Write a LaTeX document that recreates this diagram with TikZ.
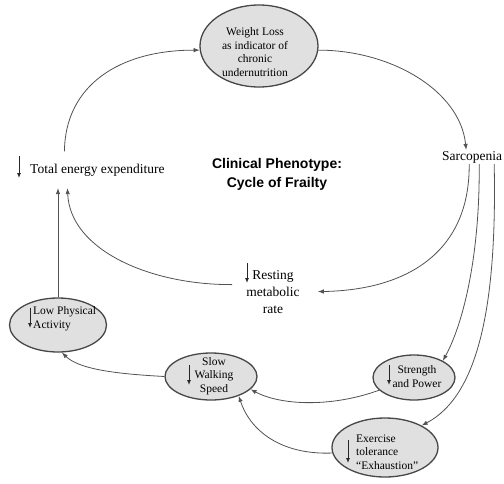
\documentclass[tikz,border=0pt]{standalone}
\usepackage{fontspec}
\setmainfont{Liberation Serif}
\newfontfamily\headfont{Liberation Sans}
\usetikzlibrary{shapes.geometric,arrows.meta,calc}

\begin{document}
\begin{tikzpicture}[x=1pt,y=-1pt,
  blob/.style={ellipse, draw=black!72, line width=1.3pt, fill=black!12, inner sep=0pt},
  blobtext/.style={font=\fontsize{11.5}{13.5}\selectfont, inner sep=0pt, align=#1},
  blobtext/.default=center,
  tag/.style={font=\fontsize{13.5}{17}\selectfont, inner sep=1pt, align=center},
  link/.style={draw=black!68, line width=0.8pt, -{Latex[length=6pt,width=4.5pt]}},
  dn/.style={draw=black!85, line width=0.9pt, -{Latex[length=5pt,width=4pt]}},
]
\useasboundingbox (0,0) rectangle (504,483);

% ---- ellipses (base anchors sit on the last line of text) ----
\node[blob, minimum width=118pt, minimum height=82pt] (wl) at (259,46) {};
\node[blobtext] (wlt) at (255,52) {Weight Loss\\as indicator of\\chronic\\undernutrition};

\node[blob, minimum width=97pt, minimum height=54pt] (lpa) at (58,325) {};
\node[blobtext=left, anchor=base west] (lpat) at (33,328) {Low Physical\\Activity};
\draw[dn] (30,308) -- (30,328);

\node[blob, minimum width=92pt, minimum height=47pt] (sws) at (211,376.5) {};
\node[blobtext, anchor=base] (swst) at (214,392) {Slow\\Walking\\Speed};
\draw[dn] (189,365) -- (189,385);

\node[blob, minimum width=82pt, minimum height=45pt] (sp) at (414,377.5) {};
\node[blobtext, anchor=base] (spt) at (417,387) {Strength\\and Power};
\draw[dn] (389,365) -- (389,385);

\node[blob, minimum width=106pt, minimum height=59pt] (ex) at (385,447.5) {};
\node[blobtext=left, anchor=base west] (ext) at (356,469) {Exercise\\tolerance\\``Exhaustion''};
\draw[dn] (348,440) -- (348,463);

% ---- free labels ----
\node[tag, anchor=base west, inner ysep=12pt] (tee) at (29,173) {Total energy expenditure};
\draw[dn] (19,156) -- (19,178);

\node[tag, anchor=base west] (sarc) at (441,160) {Sarcopenia};

\node[tag, anchor=base] (rmr) at (273,313) {Resting\\metabolic\\rate};
\draw[dn] (247,263) -- (247,283);

\node[font=\headfont\bfseries\fontsize{14}{19}\selectfont, align=center, anchor=base] (title) at (277,187)
  {Clinical Phenotype:\\Cycle of Frailty};

% ---- connectors ----
\draw[link] ([xshift=-33pt]tee.north) .. controls (65,85) and (120,50) .. (wl.184);
\draw[link] (wl.356) .. controls (390,50) and (460,90) .. ([xshift=-6pt]sarc.north);
\draw[link] ([xshift=-3pt]sarc.south) .. controls (470,250) and (410,290) .. ([xshift=17pt]rmr.east);
\draw[link] ([xshift=7pt]sarc.south) .. controls (480,250) and (465,320) .. (sp.30);
\draw[link] ([xshift=22pt]sarc.south) .. controls (497,300) and (480,395) .. (ex.31);
\draw[link] ([xshift=-13pt,yshift=7pt]rmr.west) .. controls (150,285) and (70,250) .. ([xshift=-30pt]tee.south);
\draw[link] (lpa.north) -- (lpa.north |- tee.south);
\draw[link] (sws.west) .. controls (120,374) and (80,370) .. (lpa.-82);
\draw[link] (sp.200) .. controls (330,408) and (280,405) .. (sws.-18);
\draw[link] (ex.186) .. controls (280,455) and (250,430) .. (sws.-35);

\end{tikzpicture}
\end{document}
